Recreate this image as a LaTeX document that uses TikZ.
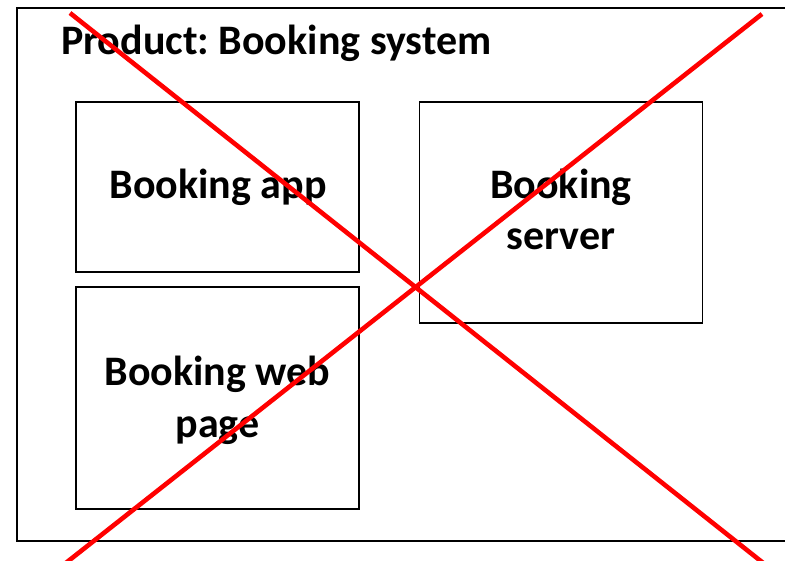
\documentclass[tikz,border=0pt]{standalone}
\usepackage{fontspec}
\setmainfont{Carlito}
\frenchspacing
\tikzset{
  box/.style={draw=black, line width=1.3pt, minimum width=283pt, inner sep=0pt},
  lbl/.style={anchor=base, inner sep=0pt, font=\bfseries\fontsize{42}{50}\selectfont},
  outer/.style={draw=black, line width=2pt},
  cross/.style={draw=red, line width=4.6pt},
  title/.style={anchor=base west, inner sep=0pt, font=\bfseries\fontsize{42}{50}\selectfont}
}
\begin{document}
\begin{tikzpicture}[x=1pt,y=-1pt]
\useasboundingbox (0,0) rectangle (785,561);
\clip (0,0) rectangle (785,561);
\fill[white] (0,0) rectangle (785,561);
\draw[outer] (16.5,8.5) rectangle (800,541);
\node[title] (t) at (61,55) {Product: Booking system};
\node[box, minimum height=170pt] (app) at (217.5,187) {};
\node[box, minimum height=221pt] (server) at (561,212.5) {};
\node[box, minimum height=222pt] (web) at (217.5,398) {};
\node[lbl] (appt) at (218,199) {Booking app};
\node[lbl] (servt1) at (561,199) {Booking};
\node[lbl] (servt2) at (561,250) {server};
\node[lbl] (webt1) at (217.5,386) {Booking web};
\node[lbl] (webt2) at (217.5,437) {page};
\coordinate (a1) at (70,13);
\coordinate (a2) at (767,566);
\coordinate (b1) at (762,14);
\coordinate (b2) at (62,566);
\draw[cross] (a1) -- (a2);
\draw[cross] (b1) -- (b2);
\end{tikzpicture}
\end{document}
